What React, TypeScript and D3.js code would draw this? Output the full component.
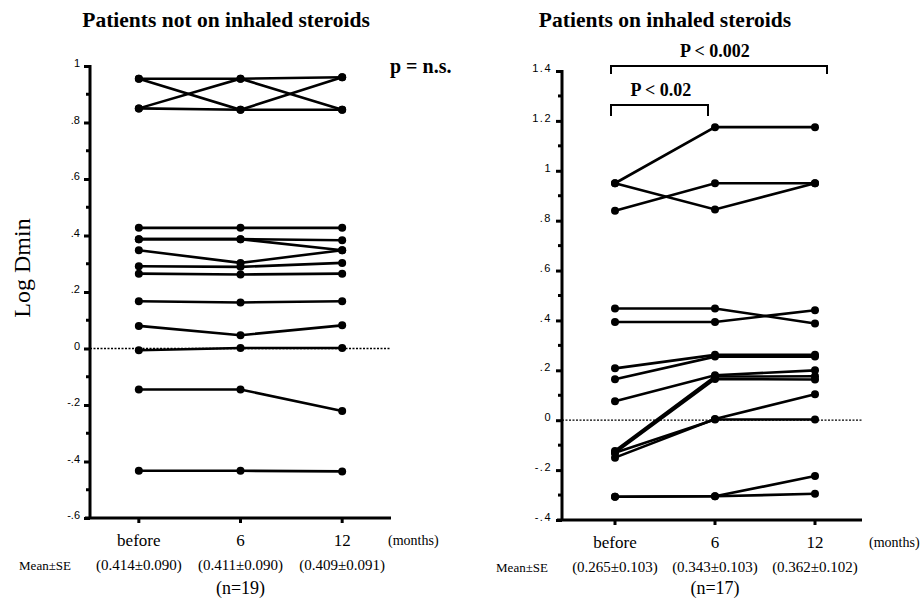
import React, { useRef, useEffect } from "react";
import * as d3 from "d3";

// months after start
const categories = ["before", "6", "12"];

// Log Dmin per patient: [before, 6, 12]
const notSteroidSeries: number[][] = [
  [0.955, 0.955, 0.96],
  [0.85, 0.845, 0.845],
  [0.955, 0.845, 0.96],
  [0.85, 0.955, 0.845],
  [0.427, 0.427, 0.427],
  [0.387, 0.387, 0.383],
  [0.387, 0.387, 0.348],
  [0.348, 0.303, 0.348],
  [0.291, 0.289, 0.303],
  [0.265, 0.262, 0.265],
  [0.167, 0.163, 0.167],
  [0.08, 0.047, 0.082],
  [-0.006, 0.002, 0.002],
  [-0.145, -0.145, -0.221],
  [-0.433, -0.433, -0.435],
];

const steroidSeries: number[][] = [
  [0.95, 1.175, 1.175],
  [0.95, 0.845, 0.95],
  [0.84, 0.95, 0.95],
  [0.448, 0.448, 0.388],
  [0.394, 0.394, 0.441],
  [0.208, 0.262, 0.262],
  [0.164, 0.255, 0.255],
  [0.076, 0.18, 0.2],
  [-0.123, 0.175, 0.176],
  [-0.13, 0.165, 0.163],
  [-0.15, 0.005, 0.104],
  [-0.13, 0.003, 0.003],
  [-0.307, -0.305, -0.224],
  [-0.307, -0.305, -0.295],
];

const notSteroidMeans = ["(0.414±0.090)", "(0.411±0.090)", "(0.409±0.091)"];
const steroidMeans = ["(0.265±0.103)", "(0.343±0.103)", "(0.362±0.102)"];

const notSteroidTicks = [-0.6, -0.4, -0.2, 0, 0.2, 0.4, 0.6, 0.8, 1];
const steroidTicks = [-0.4, -0.2, 0, 0.2, 0.4, 0.6, 0.8, 1, 1.2, 1.4];

const serif = "'Liberation Serif', 'Times New Roman', serif";
const sans = "'Liberation Sans', Arial, sans-serif";

// ".8", "-.2", "1.2" style labels
const fmtTick = (v: number) => {
  if (Math.abs(v) < 1e-9) return "0";
  if (Number.isInteger(v)) return String(v);
  const s = Math.abs(v).toFixed(1).replace(/^0\./, ".");
  return (v < 0 ? "-" : "") + s;
};

const App = () => {
  const svgRef = useRef(null);

  useEffect(() => {
    draw();
  }, []);

  const draw = () => {
    const svg = d3.select(svgRef.current);
    svg.selectAll("*").remove();

    const panels = [
      {
        title: "Patients not on inhaled steroids",
        titleX: 226,
        series: notSteroidSeries,
        means: notSteroidMeans,
        n: "(n=19)",
        ticks: notSteroidTicks,
        domain: [-0.6, 1],
        yTop: 66,
        yBottom: 518,
        axisX: 90,
        xRange: [88, 393],
        axisEnd: 391,
        monthsX: 388,
        meanLabelX: 45,
        letterSpacing: 0,
      },
      {
        title: "Patients on inhaled steroids",
        titleX: 665,
        series: steroidSeries,
        means: steroidMeans,
        n: "(n=17)",
        ticks: steroidTicks,
        domain: [-0.4, 1.4],
        yTop: 71,
        yBottom: 520,
        axisX: 562,
        xRange: [565, 865],
        axisEnd: 862,
        monthsX: 869,
        meanLabelX: 522,
        letterSpacing: 1.5,
      },
    ];

    panels.forEach((p, pi) => {
      const g = svg.append("g");

      const x = d3.scalePoint().domain(categories).range(p.xRange).padding(0.5);
      const y = d3.scaleLinear().domain(p.domain).range([p.yBottom, p.yTop]);

      // title
      g.append("text")
        .attr("x", p.titleX)
        .attr("y", 27)
        .attr("text-anchor", "middle")
        .style("font-family", serif)
        .style("font-weight", "bold")
        .style("font-size", "21.5px")
        .text(p.title);

      // zero reference
      g.append("path")
        .attr("d", `M${p.axisX},${y(0)}H${p.axisEnd}`)
        .style("fill", "none")
        .style("stroke", "#000")
        .style("stroke-width", "1.3px")
        .style("stroke-dasharray", "2,1.5");

      // y axis
      const yAxis = g.append("g")
        .attr("transform", `translate(${p.axisX},0)`)
        .call(d3.axisLeft(y).tickValues(p.ticks).tickFormat(fmtTick).tickSize(6).tickSizeOuter(0));
      yAxis.select(".domain").remove();
      yAxis.selectAll(".tick line").style("stroke", "#000").style("stroke-width", "3px");
      yAxis.selectAll(".tick text")
        .attr("dy", "0.05em")
        .attr("x", -10)
        .attr("fill", "#000")
        .style("font-family", sans)
        .style("font-size", "11px")
        .style("letter-spacing", `${p.letterSpacing}px`);

      // minor ticks
      const minor = d3.range(p.domain[0] + 0.1, p.domain[1], 0.2);
      g.selectAll(".minor")
        .data(minor)
        .enter()
        .append("path")
        .attr("d", (d) => `M${p.axisX - 4},${y(d)}H${p.axisX}`)
        .style("stroke", "#000")
        .style("stroke-width", "3px");

      // axis frame: vertical y axis + horizontal x axis
      g.append("rect")
        .attr("x", p.axisX - 1.5)
        .attr("y", p.yTop - 1)
        .attr("width", 3)
        .attr("height", p.yBottom - p.yTop + 2)
        .attr("fill", "#000");
      g.append("rect")
        .attr("x", p.axisX - 5)
        .attr("y", p.yBottom - 1.5)
        .attr("width", p.axisEnd - p.axisX + 5)
        .attr("height", 3)
        .attr("fill", "#000");

      g.selectAll(".xtick")
        .data(categories)
        .enter()
        .append("path")
        .attr("d", (d) => `M${x(d)},${p.yBottom}V${p.yBottom + 5}`)
        .style("stroke", "#000")
        .style("stroke-width", "3px");

      g.selectAll(".xlabel")
        .data(categories)
        .enter()
        .append("text")
        .attr("x", (d) => x(d))
        .attr("y", p.yBottom + 28)
        .attr("text-anchor", "middle")
        .style("font-family", serif)
        .style("font-size", "17px")
        .text((d) => d);

      g.append("text")
        .attr("x", p.monthsX)
        .attr("y", p.yBottom + 27)
        .style("font-family", serif)
        .style("font-size", "14px")
        .text("(months)");

      g.append("text")
        .attr("x", p.meanLabelX)
        .attr("y", p.yBottom + 52)
        .attr("text-anchor", "middle")
        .style("font-family", serif)
        .style("font-size", "13px")
        .text("Mean±SE");

      g.selectAll(".mean")
        .data(p.means)
        .enter()
        .append("text")
        .attr("x", (d, i) => x(categories[i]))
        .attr("y", p.yBottom + 52)
        .attr("text-anchor", "middle")
        .style("font-family", serif)
        .style("font-size", "15px")
        .text((d) => d);

      g.append("text")
        .attr("x", x("6"))
        .attr("y", 594)
        .attr("text-anchor", "middle")
        .style("font-family", serif)
        .style("font-size", "18px")
        .text(p.n);

      // patient lines
      const line = d3.line<number>()
        .x((d, i) => x(categories[i]))
        .y((d) => y(d));

      g.selectAll(".patient")
        .data(p.series)
        .enter()
        .append("path")
        .attr("d", (d) => line(d))
        .style("fill", "none")
        .style("stroke", "#000")
        .style("stroke-width", "2.6px");

      const pts = p.series.flatMap((s) => s.map((v, i) => ({ c: categories[i], v })));
      g.selectAll(".dot")
        .data(pts)
        .enter()
        .append("circle")
        .attr("cx", (d) => x(d.c))
        .attr("cy", (d) => y(d.v))
        .attr("r", 4)
        .attr("fill", "#000");

      if (pi === 0) {
        g.append("text")
          .attr("x", 390)
          .attr("y", 73)
          .style("font-family", serif)
          .style("font-weight", "bold")
          .style("font-size", "20px")
          .text("p = n.s.");
      } else {
        // significance brackets
        const brackets = [
          { from: "before", to: "12", label: "P < 0.002", top: 66, drop: 8, labelX: x("6"), labelY: 57, endPad: 12 },
          { from: "before", to: "6", label: "P < 0.02", top: 105, drop: 11, labelX: (x("before") + x("6")) / 2 - 4, labelY: 96, endPad: -7 },
        ];
        brackets.forEach((b) => {
          const x1 = x(b.from) - 4;
          const x2 = x(b.to) + b.endPad;
          g.append("path")
            .attr("d", `M${x1},${b.top + b.drop}V${b.top}H${x2}V${b.top + b.drop}`)
            .style("fill", "none")
            .style("stroke", "#000")
            .style("stroke-width", "2px");
          g.append("text")
            .attr("x", b.labelX)
            .attr("y", b.labelY)
            .attr("text-anchor", "middle")
            .style("font-family", serif)
            .style("font-weight", "bold")
            .style("font-size", "18px")
            .text(b.label);
        });
      }
    });

    // y axis title
    svg.append("text")
      .attr("transform", "translate(30,268)rotate(-90)")
      .attr("text-anchor", "middle")
      .style("font-family", serif)
      .style("font-size", "24px")
      .text("Log Dmin");
  };

  return (
    <div style={{ position: "absolute", left: 0, top: 0 }}>
      <svg width={922} height={600} style={{ display: "block", background: "#fff" }}>
        <g ref={svgRef} />
      </svg>
    </div>
  );
};

export default App;
